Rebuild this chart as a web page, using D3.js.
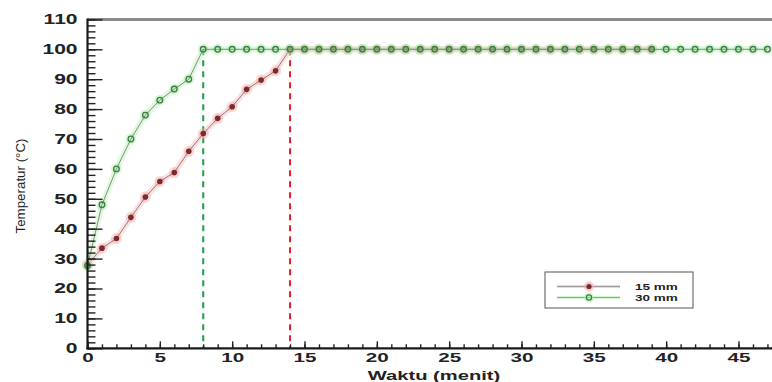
<!DOCTYPE html>
<html><head><meta charset="utf-8">
<script src="https://cdn.jsdelivr.net/npm/d3@7"></script>
<style>
body{margin:0;background:#fff;}
svg{display:block;}
text{font-family:"Liberation Sans",Arial,sans-serif;}
</style></head>
<body>
<svg id="c" width="772" height="382"></svg>
<script>
// ---- data ----
const time15 = d3.range(0, 40);            // minutes 0..39
const temp15 = [28, 33.5, 36.7, 43.8, 50.6, 55.8, 58.8, 65.9, 71.8, 76.9, 80.8, 86.6, 89.7, 92.8,
  100,100,100,100,100,100,100,100,100,100,100,100,100,100,100,100,100,100,100,100,100,100,100,100,100,100];
const time30 = d3.range(0, 48);            // minutes 0..47
const temp30 = [27.6, 48, 60, 70, 78, 83, 86.7, 90,
  100,100,100,100,100,100,100,100,100,100,100,100,100,100,100,100,100,100,100,100,100,100,100,100,
  100,100,100,100,100,100,100,100,100,100,100,100,100,100,100,100];
const seriesNames = ["15 mm", "30 mm"];
const markerTimes = [8, 14];               // dashed vertical lines (30 mm, 15 mm)
const yTicks = d3.range(0, 111, 10);
const yMinorTicks = d3.range(0, 111, 2);
const xTicks = d3.range(0, 46, 5);
const xMinorTicks = d3.range(0, 48, 1);
const xTitle = "Waktu (menit)";
const yTitle = "Temperatur (°C)";

const svg = d3.select("#c");
const x = d3.scaleLinear().domain([0, 45]).range([87.5, 738.5]);
const y = d3.scaleLinear().domain([0, 110]).range([348.3, 19.4]);
const xEnd = 772;

// stretch text horizontally like the reference
function stretch(sel, k) {
  sel.each(function() {
    const w = this.getComputedTextLength();
    d3.select(this).attr("textLength", w * k).attr("lengthAdjust", "spacingAndGlyphs");
  });
}

// top frame line
svg.append("line").attr("x1", x(0)).attr("x2", xEnd).attr("y1", y(110)).attr("y2", y(110))
  .attr("stroke", "#8a8a8a").attr("stroke-width", 3);

// dashed verticals
const dashColors = ["#1a9e48", "#ee1c24"];
markerTimes.forEach((t, i) => {
  svg.append("line").attr("x1", x(t)).attr("x2", x(t)).attr("y1", y(100)).attr("y2", y(0))
    .attr("stroke", dashColors[i]).attr("stroke-width", 2).attr("stroke-dasharray", "6,5");
});

// series
const line = d3.line().x(d => x(d[0])).y(d => y(d[1]));
const d15 = time15.map((t, i) => [t, temp15[i]]);
const d30 = time30.map((t, i) => [t, temp30[i]]);

function drawSeries(data, halo, lineCol, draw) {
  const g = svg.append("g");
  g.append("path").datum(data).attr("d", line).attr("fill", "none")
    .attr("stroke", halo).attr("stroke-width", 6).attr("stroke-opacity", 0.35);
  g.selectAll("circle.h").data(data).join("circle").attr("class", "h")
    .attr("cx", d => x(d[0])).attr("cy", d => y(d[1])).attr("r", 5.5)
    .attr("fill", halo).attr("fill-opacity", 0.45);
  g.append("path").datum(data).attr("d", line).attr("fill", "none")
    .attr("stroke", lineCol).attr("stroke-width", 1);
  draw(g, data);
}
drawSeries(d15, "#f5a8a8", "#8d7b7b", (g, data) => {
  g.selectAll("circle.m").data(data).join("circle").attr("class", "m")
    .attr("cx", d => x(d[0])).attr("cy", d => y(d[1])).attr("r", 2.8)
    .attr("fill", "#7a2c2c");
});
drawSeries(d30, "#a8eea8", "#7f8f7f", (g, data) => {
  g.selectAll("circle.m").data(data).join("circle").attr("class", "m")
    .attr("cx", d => x(d[0])).attr("cy", d => y(d[1])).attr("r", 2.8)
    .attr("fill", "none").attr("stroke", "#3d7d45").attr("stroke-width", 1.3);
});

// axes
const yMinor = svg.append("g").attr("transform", `translate(${x(0)},0)`)
  .call(d3.axisLeft(y).tickValues(yMinorTicks).tickSizeInner(-8).tickSizeOuter(0).tickFormat(""));
const yAx = svg.append("g").attr("transform", `translate(${x(0)},0)`)
  .call(d3.axisLeft(y).tickValues(yTicks).tickSizeInner(-15).tickSizeOuter(0).tickPadding(10));
const xMinor = svg.append("g").attr("transform", `translate(0,${y(0)})`)
  .call(d3.axisBottom(x).tickValues(xMinorTicks).tickSizeInner(-4).tickSizeOuter(0).tickFormat(""));
const xAx = svg.append("g").attr("transform", `translate(0,${y(0)})`)
  .call(d3.axisBottom(x).tickValues(xTicks).tickSizeInner(-7).tickSizeOuter(0).tickPadding(5));
[yMinor, yAx, xMinor, xAx].forEach(g => {
  g.select(".domain").remove();
  g.selectAll(".tick line").attr("stroke", "#222").attr("stroke-width", 1.4);
});
svg.append("line").attr("x1", x(0)).attr("x2", x(0)).attr("y1", y(110) - 1).attr("y2", y(0) + 1)
  .attr("stroke", "#1a1a1a").attr("stroke-width", 2.2);
svg.append("line").attr("x1", x(0) - 1).attr("x2", xEnd).attr("y1", y(0)).attr("y2", y(0))
  .attr("stroke", "#1a1a1a").attr("stroke-width", 2.2);

yAx.selectAll(".tick text").attr("font-size", 14).attr("font-weight", "bold").attr("fill", "#222")
  .attr("font-family", "Liberation Sans, Arial, sans-serif").call(stretch, 1.5);
xAx.selectAll(".tick text").attr("font-size", 12.5).attr("font-weight", "bold").attr("fill", "#222")
  .attr("font-family", "Liberation Sans, Arial, sans-serif").call(stretch, 1.65);

// axis titles
svg.append("text").attr("x", 434).attr("y", 380).attr("text-anchor", "middle")
  .attr("font-size", 13).attr("font-weight", "bold").attr("fill", "#222").text(xTitle).call(stretch, 1.55);
svg.append("text").attr("transform", "translate(25,186) rotate(-90)").attr("text-anchor", "middle")
  .attr("font-size", 12).attr("fill", "#222").text(yTitle)
  .each(function(){ d3.select(this).attr("textLength", 95).attr("lengthAdjust", "spacingAndGlyphs"); });

// legend
const lg = svg.append("g");
lg.append("rect").attr("x", 545).attr("y", 272).attr("width", 148).attr("height", 36)
  .attr("fill", "#fff").attr("stroke", "#555").attr("stroke-width", 1);
const legRows = [
  {name: seriesNames[0], halo: "#f5a8a8", fill: "#7a2c2c", stroke: "none", y: 286.5},
  {name: seriesNames[1], halo: "#a8eea8", fill: "none", stroke: "#3d7d45", y: 297.5}
];
legRows.forEach(r => {
  lg.append("line").attr("x1", 557).attr("x2", 620).attr("y1", r.y).attr("y2", r.y)
    .attr("stroke", r.halo).attr("stroke-width", 3).attr("stroke-opacity", 0.5);
  lg.append("line").attr("x1", 557).attr("x2", 620).attr("y1", r.y).attr("y2", r.y)
    .attr("stroke", "#8a8a8a").attr("stroke-width", 0.8);
  lg.append("circle").attr("cx", 589).attr("cy", r.y).attr("r", 5).attr("fill", r.halo).attr("fill-opacity", 0.6);
  lg.append("circle").attr("cx", 589).attr("cy", r.y).attr("r", 2.6).attr("fill", r.fill)
    .attr("stroke", r.stroke).attr("stroke-width", 1.2);
  lg.append("text").attr("x", 635).attr("y", r.y + 3.2).attr("font-size", 9).attr("font-weight", "bold")
    .attr("fill", "#222").text(r.name).call(stretch, 1.5);
});
</script>
</body></html>
